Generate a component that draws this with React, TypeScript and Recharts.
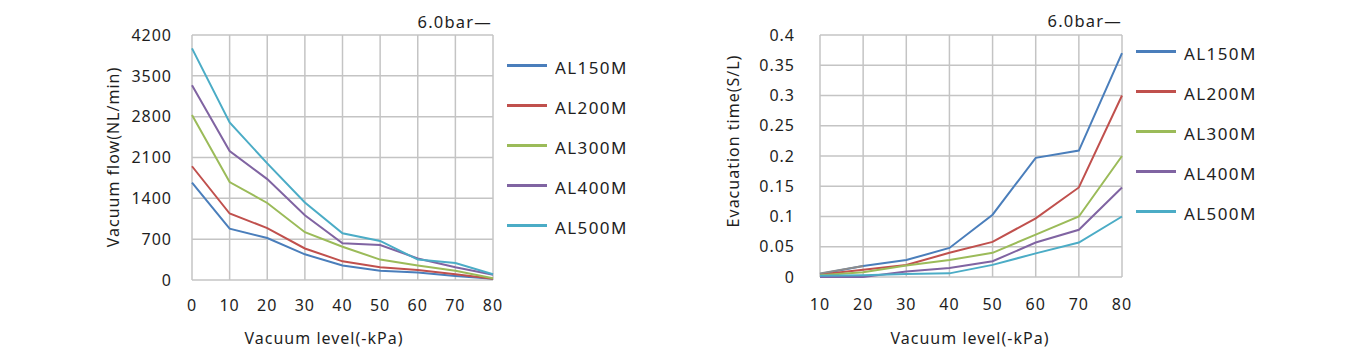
import React from 'react';
import { LineChart, Line, XAxis, YAxis, CartesianGrid, Label } from 'recharts';

const FONT = '"Noto Sans", "Open Sans", sans-serif';
const TEXT = '#1e1e1e';
const GRID = '#c4c4c4';

const SERIES_NAMES = ['AL150M', 'AL200M', 'AL300M', 'AL400M', 'AL500M'];
const SERIES_COLORS = ['#4a7ebb', '#c0504d', '#9bbb59', '#8064a2', '#4bacc6'];

// left chart: vacuum flow
const flowLevels = ['0', '10', '20', '30', '40', '50', '60', '70', '80'];
const flowAL150M = [1670, 880, 720, 440, 250, 160, 130, 70, 20];
const flowAL200M = [1950, 1140, 890, 540, 320, 220, 170, 100, 20];
const flowAL300M = [2830, 1680, 1320, 820, 570, 350, 250, 160, 30];
const flowAL400M = [3340, 2210, 1730, 1110, 630, 600, 370, 220, 90];
const flowAL500M = [3970, 2700, 2000, 1330, 800, 670, 350, 290, 100];
const flowTicks = [0, 700, 1400, 2100, 2800, 3500, 4200];

// right chart: evacuation time
const timeLevels = ['10', '20', '30', '40', '50', '60', '70', '80'];
const timeAL150M = [0.005, 0.018, 0.028, 0.048, 0.103, 0.197, 0.209, 0.37];
const timeAL200M = [0.004, 0.012, 0.02, 0.04, 0.058, 0.097, 0.148, 0.3];
const timeAL300M = [0.003, 0.008, 0.019, 0.028, 0.04, 0.07, 0.1, 0.2];
const timeAL400M = [0, 0, 0.009, 0.015, 0.026, 0.057, 0.078, 0.148];
const timeAL500M = [0.002, 0.003, 0.005, 0.006, 0.02, 0.039, 0.057, 0.1];
const timeGrey = [0.006, 0.018, null, null, null, null, null, null];
const timeTicks = [0, 0.05, 0.1, 0.15, 0.2, 0.25, 0.3, 0.35, 0.4];

const flowSeries = [flowAL150M, flowAL200M, flowAL300M, flowAL400M, flowAL500M];
const timeSeries = [timeAL150M, timeAL200M, timeAL300M, timeAL400M, timeAL500M];

const flowData = flowLevels.map((level, i) => {
  const row: Record<string, any> = { level };
  SERIES_NAMES.forEach((n, s) => (row[n] = flowSeries[s][i]));
  return row;
});

const timeData = timeLevels.map((level, i) => {
  const row: Record<string, any> = { level, grey: timeGrey[i] };
  SERIES_NAMES.forEach((n, s) => (row[n] = timeSeries[s][i]));
  return row;
});

const tickStyle = { fill: TEXT, fontSize: 16, fontFamily: FONT, letterSpacing: 1 };

const axisText = (x: number, y: number, text: string, rotate = false) => () => (
  <text
    x={x}
    y={y}
    transform={rotate ? `rotate(-90 ${x} ${y})` : undefined}
    textAnchor="middle"
    dominantBaseline={rotate ? 'central' : 'auto'}
    fill={TEXT}
    fontSize={16}
    fontFamily={FONT}
    letterSpacing={1}
  >
    {text}
  </text>
);

const SeriesLegend = ({ left, top }: { left: number; top: number }) => (
  <div style={{ position: 'absolute', left, top }}>
    {SERIES_NAMES.map((name, i) => (
      <div key={name} style={{ position: 'absolute', top: i * 40, left: 0 }}>
        <div
          style={{
            position: 'absolute',
            left: 0,
            top: -1.5,
            width: 40,
            height: 3,
            background: SERIES_COLORS[i],
          }}
        />
        <span
          style={{
            position: 'absolute',
            left: 48,
            top: -7,
            fontSize: 17,
            lineHeight: '20px',
            letterSpacing: 1.4,
            color: TEXT,
            whiteSpace: 'nowrap',
          }}
        >
          {name}
        </span>
      </div>
    ))}
  </div>
);

const PressureNote = ({ right, top }: { right: number; top: number }) => (
  <div
    style={{
      position: 'absolute',
      left: right - 120,
      width: 120,
      top,
      textAlign: 'right',
      fontSize: 16.5,
      lineHeight: '20px',
      letterSpacing: 1.2,
      color: TEXT,
    }}
  >
    6.0bar—
  </div>
);

export default function App() {
  return (
    <div
      style={{
        position: 'absolute',
        left: 0,
        top: 0,
        width: 1353,
        height: 356,
        background: '#fff',
        fontFamily: FONT,
        overflow: 'hidden',
      }}
    >
      <div style={{ position: 'absolute', left: 0, top: 0 }}>
        <LineChart
          width={520}
          height={356}
          data={flowData}
          margin={{ top: 35, right: 27, bottom: 6, left: 100 }}
        >
          <CartesianGrid stroke={GRID} strokeWidth={1.5} />
          <XAxis
            dataKey="level"
            axisLine={false}
            tickLine={false}
            tickSize={0}
            tickMargin={20}
            height={70}
            interval={0}
            tick={tickStyle}
          >
            <Label content={axisText(324, 344, 'Vacuum level(-kPa)')} />
          </XAxis>
          <YAxis
            type="number"
            domain={[0, 4200]}
            ticks={flowTicks}
            interval={0}
            width={92}
            axisLine={false}
            tickLine={false}
            tickSize={0}
            tickMargin={20}
            tick={tickStyle}
          >
            <Label content={axisText(113, 157, 'Vacuum flow(NL/min)', true)} />
          </YAxis>
          {SERIES_NAMES.map((name, i) => (
            <Line
              key={name}
              dataKey={name}
              stroke={SERIES_COLORS[i]}
              strokeWidth={2}
              dot={false}
              isAnimationActive={false}
            />
          ))}
        </LineChart>
      </div>

      <div style={{ position: 'absolute', left: 700, top: 0 }}>
        <LineChart
          width={450}
          height={356}
          data={timeData}
          margin={{ top: 35, right: 28, bottom: 6, left: 0 }}
        >
          <CartesianGrid stroke={GRID} strokeWidth={1.5} />
          <XAxis
            dataKey="level"
            axisLine={false}
            tickLine={false}
            tickSize={0}
            tickMargin={22}
            height={73}
            interval={0}
            tick={tickStyle}
          >
            <Label content={axisText(270, 344, 'Vacuum level(-kPa)')} />
          </XAxis>
          <YAxis
            type="number"
            domain={[0, 0.4]}
            ticks={timeTicks}
            interval={0}
            width={120}
            axisLine={false}
            tickLine={false}
            tickSize={0}
            tickMargin={25}
            tick={tickStyle}
          >
            <Label content={axisText(33, 141, 'Evacuation time(S/L)', true)} />
          </YAxis>
          {SERIES_NAMES.map((name, i) => (
            <Line
              key={name}
              dataKey={name}
              stroke={SERIES_COLORS[i]}
              strokeWidth={2}
              dot={false}
              isAnimationActive={false}
            />
          ))}
          <Line
            dataKey="grey"
            stroke="#8c8c8c"
            strokeWidth={2}
            dot={false}
            connectNulls={false}
            isAnimationActive={false}
          />
        </LineChart>
      </div>

      <SeriesLegend left={507} top={65} />
      <SeriesLegend left={1136} top={51} />
      <PressureNote right={492} top={12} />
      <PressureNote right={1122} top={11} />
    </div>
  );
}
